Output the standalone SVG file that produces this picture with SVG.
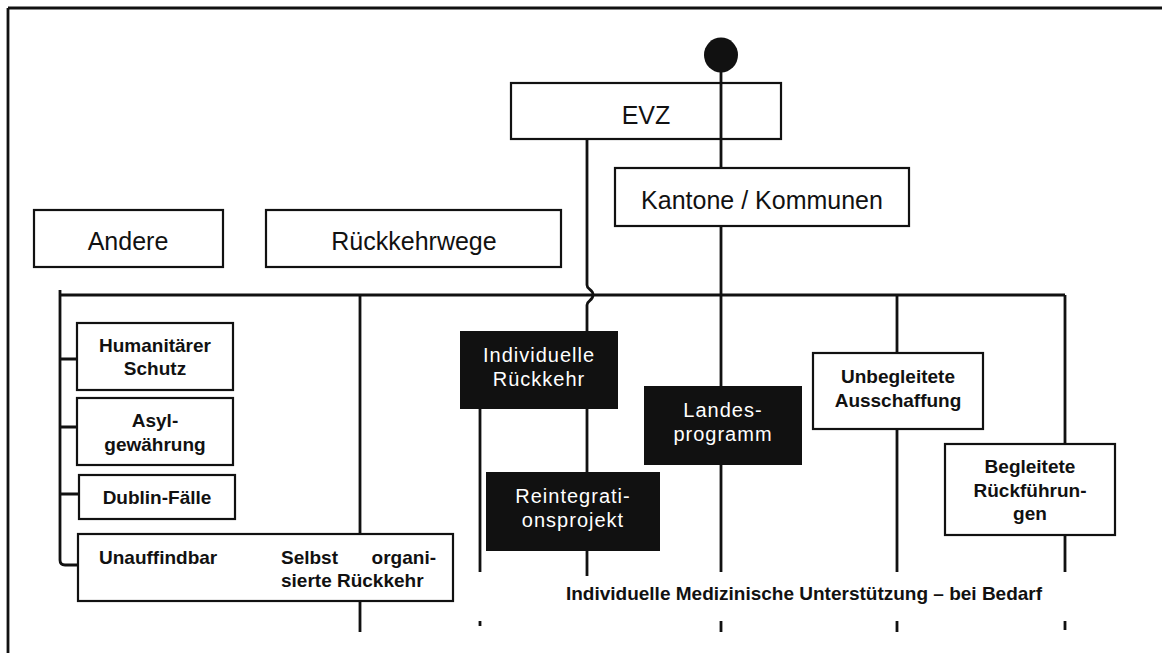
<svg xmlns="http://www.w3.org/2000/svg" width="1162" height="653" viewBox="0 0 1162 653">
<style>
.box{fill:#fff;stroke:#111;stroke-width:2.2}
.dark{fill:#111;stroke:#111;stroke-width:2}
.ln{fill:none;stroke:#111;stroke-width:2.8}
.big{font-family:"Liberation Sans",Arial,sans-serif;font-size:25px;fill:#111;text-anchor:middle}
.sm{font-family:"Liberation Sans",Arial,sans-serif;font-size:19px;font-weight:bold;fill:#111;text-anchor:middle}
.wt{font-family:"Liberation Sans",Arial,sans-serif;font-size:20px;letter-spacing:1px;fill:#fff;text-anchor:middle}
</style>
<rect width="1162" height="653" fill="#fff"/>
<g id="frame">
<path class="ln" d="M8,8 H1162 M8,8 V653" stroke-width="2.2"/>
</g>
<g id="evz-box">
<rect x="511" y="83" width="270" height="56" fill="none" stroke="#111" stroke-width="2.2"/>
<text class="big" x="646" y="124">EVZ</text>
</g>
<g id="connectors">
<path class="ln" d="M721,72 V572"/>
<path class="ln" d="M587,139 V285 C587,290 593,289 593,295 C593,301 587,300 587,305 V332"/>
<path class="ln" d="M60,290 V560 Q60,565 65,565 H78"/>
<path class="ln" d="M60,295 H1065"/>
<path class="ln" d="M60,359 H77 M60,427 H77 M60,494 H79"/>
<path class="ln" d="M360,295 V632"/>
<path class="ln" d="M897,295 V572"/>
<path class="ln" d="M1065,295 V572"/>
<path class="ln" d="M480,408 V572"/>
<path class="ln" d="M587,408 V473 M587,550 V576"/>
<path class="ln" d="M480,621 V626 M721,621 V632 M897,621 V632 M1065,621 V630"/>
</g>
<g id="start">
<ellipse cx="721" cy="55" rx="17" ry="17.5" fill="#111"/>
</g>
<g id="kantone">
<rect class="box" x="615" y="168" width="294" height="58"/>
<text class="big" x="762" y="209">Kantone / Kommunen</text>
</g>
<g id="andere">
<rect class="box" x="34" y="210" width="189" height="57"/>
<text class="big" x="128" y="250">Andere</text>
</g>
<g id="rueckkehrwege">
<rect class="box" x="266" y="210" width="295" height="57"/>
<text class="big" x="414" y="250">Rückkehrwege</text>
</g>
<g id="humanitaer">
<rect class="box" x="77" y="323" width="156" height="67"/>
<text class="sm" x="155" y="352">Humanitärer</text>
<text class="sm" x="155" y="375">Schutz</text>
</g>
<g id="asyl">
<rect class="box" x="77" y="398" width="156" height="67"/>
<text class="sm" x="155" y="427">Asyl-</text>
<text class="sm" x="155" y="451">gewährung</text>
</g>
<g id="dublin">
<rect class="box" x="79" y="475" width="156" height="44"/>
<text class="sm" x="157" y="504">Dublin-Fälle</text>
</g>
<g id="unauffindbar">
<rect class="box" x="78" y="534" width="375" height="67"/>
<text class="sm" x="99" y="564" style="text-anchor:start">Unauffindbar</text>
<text class="sm" x="281" y="564" style="text-anchor:start">Selbst</text>
<text class="sm" x="436" y="564" style="text-anchor:end">organi-</text>
<text class="sm" x="281" y="587" style="text-anchor:start">sierte Rückkehr</text>
</g>
<g id="individuelle">
<rect class="dark" x="461" y="332" width="156" height="76"/>
<text class="wt" x="539" y="362">Individuelle</text>
<text class="wt" x="539" y="386">Rückkehr</text>
</g>
<g id="reintegration">
<rect class="dark" x="487" y="473" width="172" height="77"/>
<text class="wt" x="573" y="503">Reintegrati-</text>
<text class="wt" x="573" y="527">onsprojekt</text>
</g>
<g id="landesprogramm">
<rect class="dark" x="645" y="387" width="156" height="77"/>
<text class="wt" x="723" y="417">Landes-</text>
<text class="wt" x="723" y="441">programm</text>
</g>
<g id="unbegleitete">
<rect class="box" x="813" y="353" width="170" height="76"/>
<text class="sm" x="898" y="383">Unbegleitete</text>
<text class="sm" x="898" y="407">Ausschaffung</text>
</g>
<g id="begleitete">
<rect class="box" x="945" y="444" width="170" height="91"/>
<text class="sm" x="1030" y="473">Begleitete</text>
<text class="sm" x="1030" y="497">Rückführun-</text>
<text class="sm" x="1030" y="520">gen</text>
</g>
<g id="medizin">
<text class="sm" x="804" y="600">Individuelle Medizinische Unterstützung – bei Bedarf</text>
</g>
</svg>
